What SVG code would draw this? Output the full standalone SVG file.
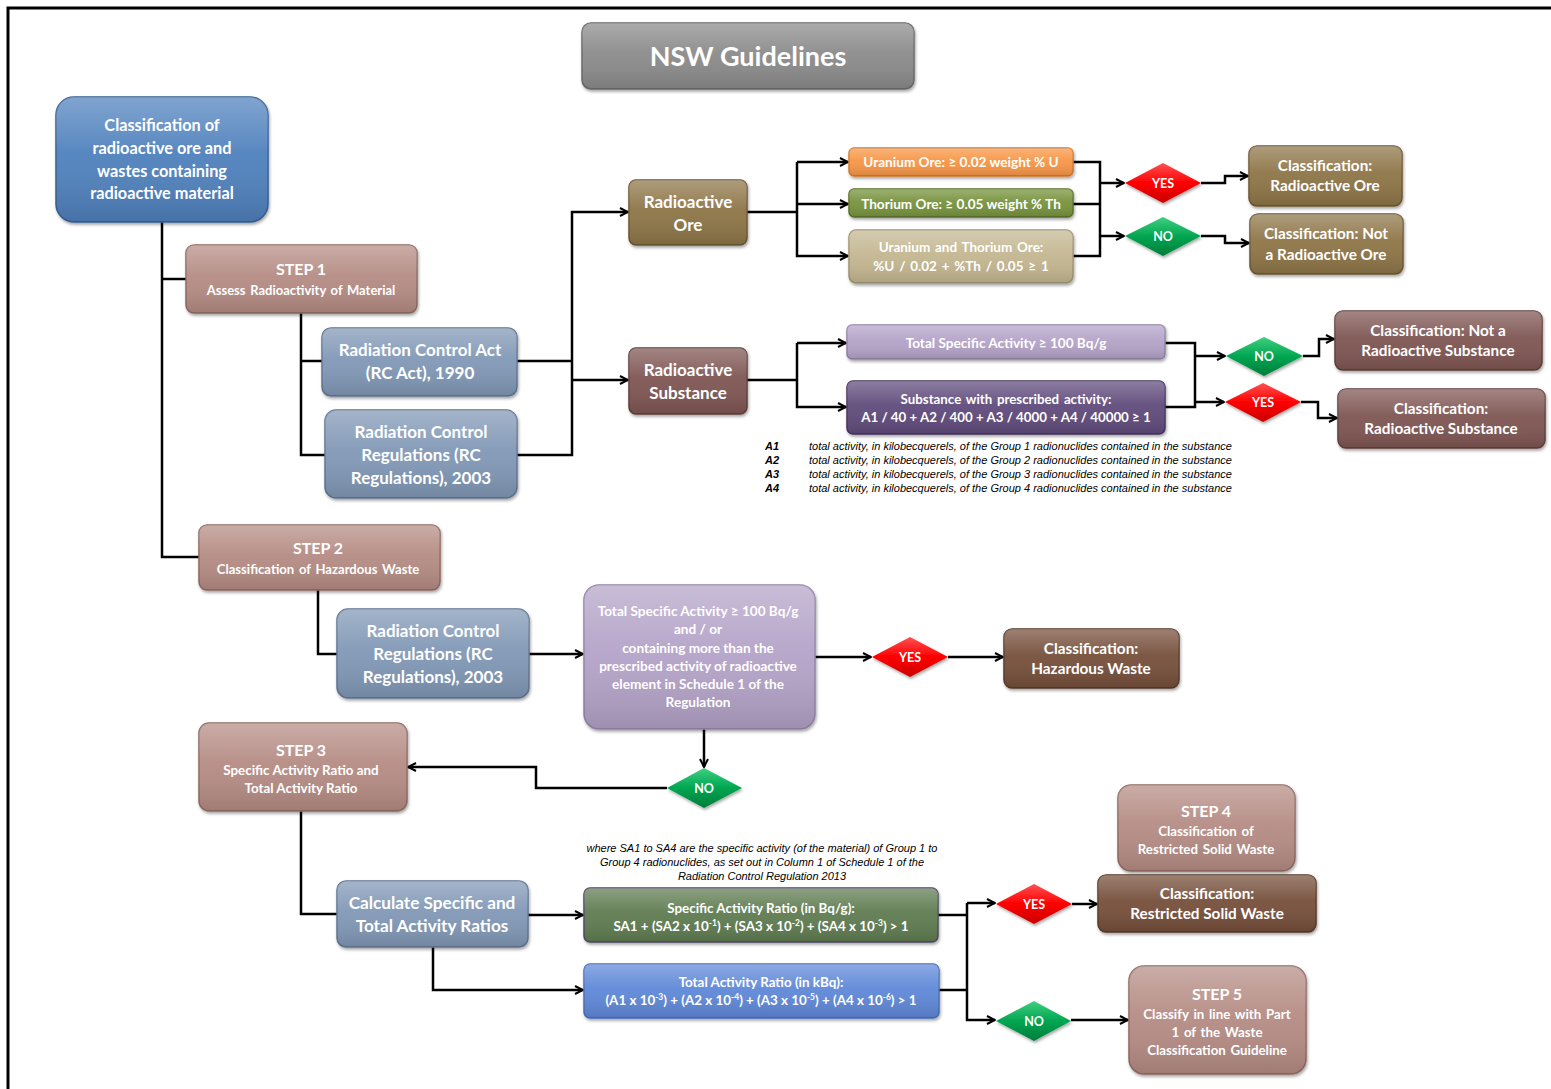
<svg xmlns="http://www.w3.org/2000/svg" width="1551" height="1089" viewBox="0 0 1551 1089">
<defs>
<style>
.t{font-family:Lato,"Liberation Sans",sans-serif;font-weight:bold;fill:#fff;text-anchor:middle}
.it{font-family:"Liberation Sans",Arial,sans-serif;font-style:italic;fill:#000;font-size:11px}
.c{fill:none;stroke:#000;stroke-width:2.5}
.a{marker-end:url(#arr)}
.bx{filter:url(#sh);stroke-width:1.5}
.gl{fill:url(#gloss);stroke:none}
.step{fill:#b58c84;stroke:#8f6a62}
.steel{fill:#8198b6;stroke:#5f7592}
.ore{fill:#8e7446;stroke:#6c5733}
.sub{fill:#7f5752;stroke:#5f3f3b}
.dk{fill:#764f3a;stroke:#573a2a}
.lav{fill:#b4a3c8;stroke:#9382a8}
.yes{fill:url(#red)}
.no{fill:url(#grn)}
</style>
<linearGradient id="gloss" x1="0" y1="0" x2="0" y2="1">
<stop offset="0" stop-color="#fff" stop-opacity="0.28"/>
<stop offset="0.45" stop-color="#fff" stop-opacity="0.05"/>
<stop offset="1" stop-color="#000" stop-opacity="0.12"/>
</linearGradient>
<linearGradient id="red" x1="0" y1="0" x2="0" y2="1">
<stop offset="0" stop-color="#ff5050"/>
<stop offset="0.5" stop-color="#f00"/>
<stop offset="1" stop-color="#c80000"/>
</linearGradient>
<linearGradient id="grn" x1="0" y1="0" x2="0" y2="1">
<stop offset="0" stop-color="#3fcf80"/>
<stop offset="0.5" stop-color="#00a651"/>
<stop offset="1" stop-color="#007d3a"/>
</linearGradient>
<filter id="sh" x="-10%" y="-10%" width="125%" height="130%">
<feDropShadow dx="1" dy="2" stdDeviation="1.5" flood-color="#000" flood-opacity="0.35"/>
</filter>
<marker id="arr" viewBox="0 0 10 10" refX="9" refY="5" markerWidth="10" markerHeight="11" markerUnits="userSpaceOnUse" orient="auto">
<path d="M1,1 L9,5 L1,9" fill="none" stroke="#000" stroke-width="2"/>
</marker>
</defs>
<rect width="1551" height="1089" fill="#fff"/>
<path d="M8,1089 V8 H1551" fill="none" stroke="#000" stroke-width="3"/>

<g id="connectors">
<path class="c" d="M162,222 V557 H199"/>
<path class="c" d="M162,279 H186"/>
<path class="c" d="M301,313 V455 H325"/>
<path class="c" d="M301,361 H322"/>
<path class="c" d="M517,361 H572"/>
<path class="c a" d="M517,455 H572 V212 H628"/>
<path class="c a" d="M572,380 H628"/>
<path class="c" d="M747,212 H797"/>
<path class="c a" d="M797,162 H848"/>
<path class="c a" d="M797,204 H848"/>
<path class="c a" d="M797,162 V256 H848"/>
<path class="c" d="M1073,162 H1100 V256 H1073"/>
<path class="c" d="M1073,204 H1100"/>
<path class="c a" d="M1100,183 H1124"/>
<path class="c a" d="M1100,236 H1124"/>
<path class="c a" d="M1201,183 H1225 V176 H1248"/>
<path class="c a" d="M1201,236 H1225 V243 H1249"/>
<path class="c" d="M747,380 H797"/>
<path class="c a" d="M797,343 H846"/>
<path class="c a" d="M797,343 V407 H846"/>
<path class="c" d="M1165,343 H1195 V407 H1165"/>
<path class="c a" d="M1195,356 H1225"/>
<path class="c a" d="M1195,402 H1224"/>
<path class="c a" d="M1303,356 H1319 V339 H1334"/>
<path class="c a" d="M1301,402 H1318 V418 H1337"/>
<path class="c" d="M318,590 V654 H337"/>
<path class="c a" d="M529,654 H583"/>
<path class="c a" d="M815,657 H871"/>
<path class="c a" d="M948,657 H1003"/>
<path class="c a" d="M704,729 V767"/>
<path class="c a" d="M667,788 H536 V767 H408"/>
<path class="c" d="M301,811 V914 H337"/>
<path class="c a" d="M528,915 H583"/>
<path class="c a" d="M433,947 V990 H583"/>
<path class="c" d="M938,915 H967"/>
<path class="c" d="M939,990 H967"/>
<path class="c a" d="M967,903 H995"/>
<path class="c a" d="M967,903 V1020 H995"/>
<path class="c a" d="M1072,904 H1097"/>
<path class="c a" d="M1071,1020 H1128"/>
</g>

<g id="title">
<rect class="bx" x="582" y="23" width="332" height="66" rx="9" fill="#8b8b8b" stroke="#6a6a6a"/>
<rect class="gl" x="582" y="23" width="332" height="66" rx="9"/>
<text class="t" x="748" y="66" font-size="27">NSW Guidelines</text>
</g>

<g id="root">
<rect class="bx" x="56" y="97" width="212" height="125" rx="18" fill="#4f81bd" stroke="#355f94" stroke-width="2.5"/>
<rect class="gl" x="56" y="97" width="212" height="125" rx="18"/>
<text class="t" font-size="16.3"><tspan x="162" y="131">Classification of</tspan><tspan x="162" y="154">radioactive ore and</tspan><tspan x="162" y="177">wastes containing</tspan><tspan x="162" y="199">radioactive material</tspan></text>
</g>

<g id="step1">
<rect class="bx step" x="186" y="245" width="231" height="68" rx="8"/>
<rect class="gl" x="186" y="245" width="231" height="68" rx="8"/>
<text class="t" x="301" y="275" font-size="16">STEP 1</text>
<text class="t" x="301" y="295" font-size="13" word-spacing="1.5">Assess Radioactivity of Material</text>
</g>

<g id="rcact">
<rect class="bx steel" x="322" y="328" width="195" height="68" rx="9"/>
<rect class="gl" x="322" y="328" width="195" height="68" rx="9"/>
<text class="t" font-size="17"><tspan x="420" y="356">Radiation Control Act</tspan><tspan x="420" y="379">(RC Act), 1990</tspan></text>
</g>

<g id="rcregs1">
<rect class="bx steel" x="325" y="410" width="192" height="88" rx="11"/>
<rect class="gl" x="325" y="410" width="192" height="88" rx="11"/>
<text class="t" font-size="17"><tspan x="421" y="438">Radiation Control</tspan><tspan x="421" y="461">Regulations (RC</tspan><tspan x="421" y="484">Regulations), 2003</tspan></text>
</g>

<g id="radore">
<rect class="bx ore" x="629" y="180" width="118" height="65" rx="7"/>
<rect class="gl" x="629" y="180" width="118" height="65" rx="7"/>
<text class="t" font-size="17"><tspan x="688" y="208">Radioactive</tspan><tspan x="688" y="231">Ore</tspan></text>
</g>

<g id="radsub">
<rect class="bx sub" x="629" y="348" width="118" height="66" rx="7"/>
<rect class="gl" x="629" y="348" width="118" height="66" rx="7"/>
<text class="t" font-size="17"><tspan x="688" y="376">Radioactive</tspan><tspan x="688" y="399">Substance</tspan></text>
</g>

<g id="uore">
<rect class="bx" x="849" y="148" width="224" height="28" rx="5" fill="#f79646" stroke="#d47a2e"/>
<rect class="gl" x="849" y="148" width="224" height="28" rx="5"/>
<text class="t" x="961" y="167" font-size="13.6">Uranium Ore: ≥ 0.02 weight % U</text>
</g>

<g id="thore">
<rect class="bx" x="849" y="189" width="224" height="28" rx="5" fill="#77933c" stroke="#5b7229"/>
<rect class="gl" x="849" y="189" width="224" height="28" rx="5"/>
<text class="t" x="961" y="209" font-size="13.6">Thorium Ore: ≥ 0.05 weight % Th</text>
</g>

<g id="uthore">
<rect class="bx" x="849" y="230" width="224" height="53" rx="7" fill="#c4b791" stroke="#a09470"/>
<rect class="gl" x="849" y="230" width="224" height="53" rx="7"/>
<text class="t" font-size="13.5" word-spacing="1.5"><tspan x="961" y="252">Uranium and Thorium Ore:</tspan><tspan x="961" y="271">%U / 0.02 + %Th / 0.05 ≥ 1</tspan></text>
</g>

<g id="yes-ore">
<polygon class="yes" points="1125,183 1163,163 1201,183 1163,203" filter="url(#sh)"/>
<text class="t" x="1163" y="187.5" font-size="12.5">YES</text>
</g>

<g id="no-ore">
<polygon class="no" points="1125,236 1163,217 1201,236 1163,256" filter="url(#sh)"/>
<text class="t" x="1163" y="240.5" font-size="12.5">NO</text>
</g>

<g id="cls-radore">
<rect class="bx ore" x="1249" y="146" width="153" height="60" rx="8"/>
<rect class="gl" x="1249" y="146" width="153" height="60" rx="8"/>
<text class="t" font-size="15.3"><tspan x="1325" y="171">Classification:</tspan><tspan x="1325" y="191">Radioactive Ore</tspan></text>
</g>

<g id="cls-notradore">
<rect class="bx ore" x="1250" y="214" width="153" height="60" rx="8"/>
<rect class="gl" x="1250" y="214" width="153" height="60" rx="8"/>
<text class="t" font-size="15.3"><tspan x="1326" y="239">Classification: Not</tspan><tspan x="1326" y="260">a Radioactive Ore</tspan></text>
</g>

<g id="tsa">
<rect class="bx lav" x="847" y="325" width="318" height="34" rx="5"/>
<rect class="gl" x="847" y="325" width="318" height="34" rx="5"/>
<text class="t" x="1006" y="348" font-size="13.6">Total Specific Activity ≥ 100 Bq/g</text>
</g>

<g id="prescribed">
<rect class="bx" x="847" y="381" width="318" height="53" rx="6" fill="#614b7c" stroke="#46355c"/>
<rect class="gl" x="847" y="381" width="318" height="53" rx="6"/>
<text class="t" font-size="13.3"><tspan x="1006" y="404" word-spacing="1.5">Substance with prescribed activity:</tspan><tspan x="1006" y="422">A1 / 40 + A2 / 400 + A3 / 4000 + A4 / 40000 ≥ 1</tspan></text>
</g>

<g id="no-sub">
<polygon class="no" points="1226,356 1264,337 1303,356 1264,376" filter="url(#sh)"/>
<text class="t" x="1264" y="360.5" font-size="12.5">NO</text>
</g>

<g id="yes-sub">
<polygon class="yes" points="1225,402 1263,383 1301,402 1263,422" filter="url(#sh)"/>
<text class="t" x="1263" y="406.5" font-size="12.5">YES</text>
</g>

<g id="cls-notradsub">
<rect class="bx sub" x="1335" y="311" width="207" height="59" rx="8"/>
<rect class="gl" x="1335" y="311" width="207" height="59" rx="8"/>
<text class="t" font-size="15.3"><tspan x="1438" y="336">Classification: Not a</tspan><tspan x="1438" y="356">Radioactive Substance</tspan></text>
</g>

<g id="cls-radsub">
<rect class="bx sub" x="1338" y="389" width="207" height="59" rx="8"/>
<rect class="gl" x="1338" y="389" width="207" height="59" rx="8"/>
<text class="t" font-size="15.3"><tspan x="1441" y="414">Classification:</tspan><tspan x="1441" y="434">Radioactive Substance</tspan></text>
</g>

<g id="legend">
<text class="it" font-weight="bold" x="765" y="450">A1</text>
<text class="it" x="809" y="450">total activity, in kilobecquerels, of the Group 1 radionuclides contained in the substance</text>
<text class="it" font-weight="bold" x="765" y="464">A2</text>
<text class="it" x="809" y="464">total activity, in kilobecquerels, of the Group 2 radionuclides contained in the substance</text>
<text class="it" font-weight="bold" x="765" y="478">A3</text>
<text class="it" x="809" y="478">total activity, in kilobecquerels, of the Group 3 radionuclides contained in the substance</text>
<text class="it" font-weight="bold" x="765" y="492">A4</text>
<text class="it" x="809" y="492">total activity, in kilobecquerels, of the Group 4 radionuclides contained in the substance</text>
</g>

<g id="step2">
<rect class="bx step" x="199" y="525" width="241" height="65" rx="8"/>
<rect class="gl" x="199" y="525" width="241" height="65" rx="8"/>
<text class="t" x="318" y="554" font-size="16">STEP 2</text>
<text class="t" x="318" y="574" font-size="13.1" word-spacing="1.5">Classification of Hazardous Waste</text>
</g>

<g id="rcregs2">
<rect class="bx steel" x="337" y="609" width="192" height="89" rx="11"/>
<rect class="gl" x="337" y="609" width="192" height="89" rx="11"/>
<text class="t" font-size="17"><tspan x="433" y="637">Radiation Control</tspan><tspan x="433" y="660">Regulations (RC</tspan><tspan x="433" y="683">Regulations), 2003</tspan></text>
</g>

<g id="hazcheck">
<rect class="bx lav" x="584" y="585" width="231" height="144" rx="15"/>
<rect class="gl" x="584" y="585" width="231" height="144" rx="15"/>
<text class="t" font-size="13.6"><tspan x="698" y="616">Total Specific Activity ≥ 100 Bq/g</tspan><tspan x="698" y="634">and / or</tspan><tspan x="698" y="653">containing more than the</tspan><tspan x="698" y="671">prescribed activity of radioactive</tspan><tspan x="698" y="689">element in Schedule 1 of the</tspan><tspan x="698" y="707">Regulation</tspan></text>
</g>

<g id="yes-haz">
<polygon class="yes" points="872,657 910,637 948,657 910,677" filter="url(#sh)"/>
<text class="t" x="910" y="661.5" font-size="12.5">YES</text>
</g>

<g id="cls-haz">
<rect class="bx dk" x="1004" y="629" width="175" height="59" rx="8"/>
<rect class="gl" x="1004" y="629" width="175" height="59" rx="8"/>
<text class="t" font-size="15.3"><tspan x="1091" y="654">Classification:</tspan><tspan x="1091" y="674">Hazardous Waste</tspan></text>
</g>

<g id="no-haz">
<polygon class="no" points="667,788 704,768 742,788 704,808" filter="url(#sh)"/>
<text class="t" x="704" y="792.5" font-size="12.5">NO</text>
</g>

<g id="step3">
<rect class="bx step" x="199" y="723" width="208" height="88" rx="10"/>
<rect class="gl" x="199" y="723" width="208" height="88" rx="10"/>
<text class="t" x="301" y="756" font-size="16">STEP 3</text>
<text class="t" font-size="13.4"><tspan x="301" y="775">Specific Activity Ratio and</tspan><tspan x="301" y="793">Total Activity Ratio</tspan></text>
</g>

<g id="calc">
<rect class="bx steel" x="337" y="881" width="191" height="66" rx="9"/>
<rect class="gl" x="337" y="881" width="191" height="66" rx="9"/>
<text class="t" font-size="17.2"><tspan x="432" y="909">Calculate Specific and</tspan><tspan x="432" y="932">Total Activity Ratios</tspan></text>
</g>

<g id="note">
<text class="it" text-anchor="middle" font-size="10.8"><tspan x="762" y="852">where SA1 to SA4 are the specific activity (of the material) of Group 1 to</tspan><tspan x="762" y="866">Group 4 radionuclides, as set out in Column 1 of Schedule 1 of the</tspan><tspan x="762" y="880">Radiation Control Regulation 2013</tspan></text>
</g>

<g id="sar">
<rect class="bx" x="584" y="888" width="354" height="54" rx="6" fill="#5f7c51" stroke="#4f4a63"/>
<rect class="gl" x="584" y="888" width="354" height="54" rx="6"/>
<text class="t" font-size="13.4"><tspan x="761" y="913">Specific Activity Ratio (in Bq/g):</tspan><tspan x="761" y="931">SA1 + (SA2 x 10<tspan baseline-shift="super" font-size="8.5">-1</tspan>) + (SA3 x 10<tspan baseline-shift="super" font-size="8.5">-2</tspan>) + (SA4 x 10<tspan baseline-shift="super" font-size="8.5">-3</tspan>) &gt; 1</tspan></text>
</g>

<g id="tar">
<rect class="bx" x="584" y="964" width="355" height="54" rx="6" fill="#5e88d8" stroke="#466fbe"/>
<rect class="gl" x="584" y="964" width="355" height="54" rx="6"/>
<text class="t" font-size="13.4"><tspan x="761" y="987">Total Activity Ratio (in kBq):</tspan><tspan x="761" y="1005">(A1 x 10<tspan baseline-shift="super" font-size="8.5">-3</tspan>) + (A2 x 10<tspan baseline-shift="super" font-size="8.5">-4</tspan>) + (A3 x 10<tspan baseline-shift="super" font-size="8.5">-5</tspan>) + (A4 x 10<tspan baseline-shift="super" font-size="8.5">-6</tspan>) &gt; 1</tspan></text>
</g>

<g id="yes-rsw">
<polygon class="yes" points="996,904 1034,884 1072,904 1034,924" filter="url(#sh)"/>
<text class="t" x="1034" y="908.5" font-size="12.5">YES</text>
</g>

<g id="no-rsw">
<polygon class="no" points="996,1021 1034,1001 1071,1021 1034,1041" filter="url(#sh)"/>
<text class="t" x="1034" y="1025.5" font-size="12.5">NO</text>
</g>

<g id="step4">
<rect class="bx step" x="1118" y="785" width="177" height="86" rx="13"/>
<rect class="gl" x="1118" y="785" width="177" height="86" rx="13"/>
<text class="t" x="1206" y="817" font-size="16">STEP 4</text>
<text class="t" font-size="13.3" word-spacing="1.5"><tspan x="1206" y="836">Classification of</tspan><tspan x="1206" y="854">Restricted Solid Waste</tspan></text>
</g>

<g id="cls-rsw">
<rect class="bx dk" x="1098" y="875" width="218" height="57" rx="8"/>
<rect class="gl" x="1098" y="875" width="218" height="57" rx="8"/>
<text class="t" font-size="15.3"><tspan x="1207" y="899">Classification:</tspan><tspan x="1207" y="919">Restricted Solid Waste</tspan></text>
</g>

<g id="step5">
<rect class="bx step" x="1129" y="966" width="177" height="108" rx="15"/>
<rect class="gl" x="1129" y="966" width="177" height="108" rx="15"/>
<text class="t" x="1217" y="1000" font-size="16">STEP 5</text>
<text class="t" font-size="13.3" word-spacing="1.5"><tspan x="1217" y="1019">Classify in line with Part</tspan><tspan x="1217" y="1037">1 of the Waste</tspan><tspan x="1217" y="1055">Classification Guideline</tspan></text>
</g>
</svg>
